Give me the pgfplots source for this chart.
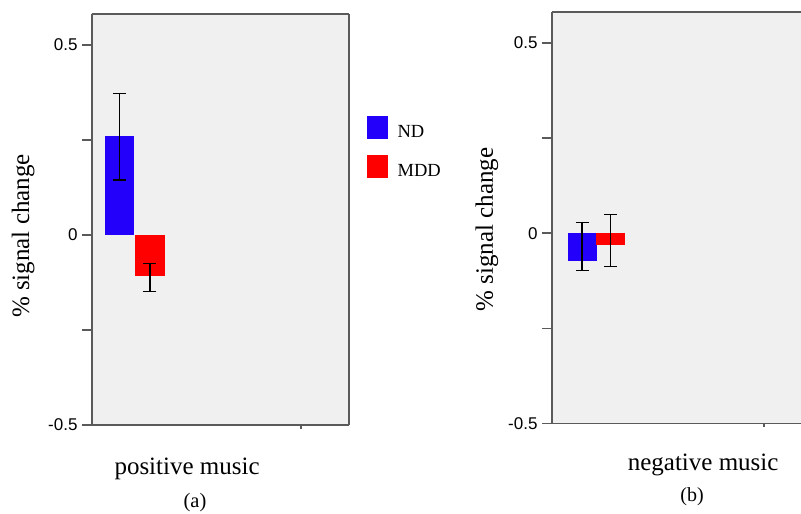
\documentclass[border=0pt]{standalone}
\usepackage{fontspec}
\setmainfont{Liberation Serif}
\newfontfamily\tickfont{Liberation Sans}
\usepackage{pgfplots}
\pgfplotsset{compat=1.18}
\definecolor{barblue}{RGB}{34,0,250}
\definecolor{barred}{RGB}{255,0,0}
\definecolor{axgray}{RGB}{90,90,90}
\definecolor{bggray}{RGB}{240,240,240}
\pgfplotsset{
  panel/.style={
    scale only axis,
    anchor=south west,
    ymin=-0.5,
    xmin=0,
    ytick={-0.5,-0.25,0,0.25,0.5},
    yticklabels={-0.5,,0,,0.5},
    xtick=\empty,
    extra x tick style={major tick length=4pt, tick align=outside},
    tick align=outside,
    major tick length=10pt,
    xtick pos=lower,
    ytick pos=left,
    tick style={axgray, line width=1.6pt},
    separate axis lines,
    axis line style={draw=axgray, line width=1.8pt},
    axis background/.style={fill=bggray},
    yticklabel style={font=\tickfont\fontsize{17}{17}\selectfont, xshift=-1pt},
    label style={font=\fontsize{25}{30}\selectfont},
  },
  bars/.style={ybar, bar width=29, bar shift=0pt, draw=none, forget plot,
    /pgfplots/error bars/y dir=both, /pgfplots/error bars/y explicit,
    /pgfplots/error bars/error bar style={black, line width=1.3pt},
    /pgfplots/error bars/error mark options={rotate=90, black, mark size=6.5pt, line width=1.3pt}},
}
\begin{document}
\begin{tikzpicture}[x=1pt,y=1pt]
\useasboundingbox (0,0) rectangle (801,514);
% ---------- panel (a)
\begin{axis}[panel,
  at={(92pt,89pt)}, width=257pt, height=411pt,
  xmax=257, ymax=0.582,
  extra x ticks={209}, extra x tick labels={},
  xlabel={positive music},
  xlabel style={at={(axis description cs:0.370,-0.121)}, anchor=base},
  ylabel={\% signal change},
  ylabel style={at={(axis description cs:-0.268,0.46)}, anchor=center},
  legend style={at={(axis description cs:1.070,0.752)}, anchor=north west,
    draw=none, fill=none, inner sep=0pt, row sep=16pt, column sep=10pt,
    font=\fontsize{18.5}{20}\selectfont, nodes={inner sep=0pt}},
  legend cell align=left,
]
\addplot[bars, fill=barblue] coordinates {(27.5,0.262) += (0,0.111) -= (0,0.117)};
\addplot[bars, fill=barred] coordinates {(58,-0.109) += (0,0.034) -= (0,0.039)};
\addlegendimage{legend image code/.code={\fill[barblue] (0pt,-6pt) rectangle (20pt,16pt);}}
\addlegendentry{ND}
\addlegendimage{legend image code/.code={\fill[barred] (0pt,-6pt) rectangle (20pt,16pt);}}
\addlegendentry{MDD}
\end{axis}
% ---------- panel (b)
\begin{axis}[panel,
  at={(552pt,90.5pt)}, width=249pt, height=411.5pt,
  xmax=249, ymax=0.581,
  axis x line*=box, axis y line*=left,
  extra x ticks={212}, extra x tick labels={},
  xlabel={negative music},
  xlabel style={at={(axis description cs:0.607,-0.114)}, anchor=base},
  ylabel={\% signal change},
  ylabel style={at={(axis description cs:-0.261,0.471)}, anchor=center},
]
\addplot[bars, fill=barblue] coordinates {(30,-0.073) += (0,0.101) -= (0,0.025)};
\addplot[bars, fill=barred] coordinates {(58.5,-0.031) += (0,0.080) -= (0,0.057)};
\end{axis}
\node[font=\fontsize{20.5}{24}\selectfont] at (195,11) {(a)};
\node[font=\fontsize{20}{24}\selectfont] at (692,17) {(b)};
\end{tikzpicture}
\end{document}
